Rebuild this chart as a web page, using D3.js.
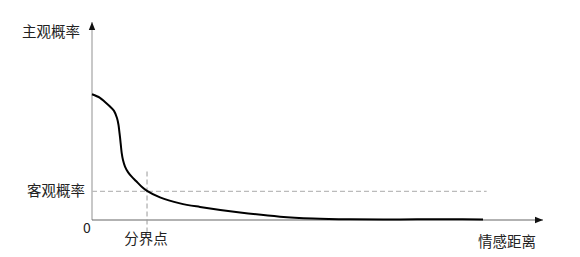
<!DOCTYPE html>
<html>
<head>
<meta charset="utf-8">
<script src="https://cdn.jsdelivr.net/npm/d3@7"></script>
<style>
body{margin:0;background:#fff;}
text{font-family:"Noto Sans CJK SC","Noto Sans",sans-serif;fill:#222;}
</style>
</head>
<body>
<script>
// 情感距离 vs 主观概率 曲线
var distX = [0, 1.77, 2.88, 3.99, 4.88, 5.54, 5.88, 6.05, 6.21, 6.39, 6.59, 6.87, 7.32, 7.98, 8.80, 9.76, 11.02, 12.20, 15.08, 19.51, 23.95, 32.82, 41.69, 49.00, 57.21, 68.29, 79.38, 86.70];
var probY = [0.635, 0.617, 0.596, 0.573, 0.551, 0.515, 0.480, 0.449, 0.419, 0.379, 0.338, 0.303, 0.270, 0.242, 0.219, 0.197, 0.168, 0.147, 0.114, 0.084, 0.066, 0.038, 0.017, 0.008, 0.004, 0.003, 0.004, 0.003];
var objProb = 0.145;      // 客观概率
var splitX = 12.2;        // 分界点
var axisLabels = { y: "主观概率", x: "情感距离", h: "客观概率", v: "分界点", o: "0" };

var W = 580, H = 257;
var svg = d3.select('body').append('svg').attr('width', W).attr('height', H);

var x = d3.scaleLinear().domain([0, 100]).range([92, 543]);
var y = d3.scaleLinear().domain([0, 1]).range([220, 22]);

var defs = svg.append('defs');
defs.append('marker').attr('id', 'arr').attr('viewBox', '0 0 10 10')
	.attr('refX', 10).attr('refY', 5).attr('markerWidth', 10).attr('markerHeight', 8)
	.attr('markerUnits', 'userSpaceOnUse').attr('orient', 'auto')
	.append('path').attr('d', 'M0,1L10,5L0,9Z').attr('fill', '#111');

// 坐标轴
svg.append('line').attr('x1', x(0)).attr('y1', y(0)).attr('x2', x(0)).attr('y2', y(1))
	.attr('stroke', '#c8c8c8').attr('stroke-width', 2).attr('marker-end', 'url(#arr)');
svg.append('line').attr('x1', x(0)).attr('y1', y(0)).attr('x2', x(100)).attr('y2', y(0))
	.attr('stroke', '#666').attr('stroke-width', 1.2).attr('marker-end', 'url(#arr)');

// 虚线
svg.append('line').attr('x1', x(0)).attr('y1', y(objProb)).attr('x2', x(87.5)).attr('y2', y(objProb))
	.attr('stroke', '#bbb').attr('stroke-width', 1.2).attr('stroke-dasharray', '5,3');
svg.append('line').attr('x1', x(splitX)).attr('y1', y(0.245)).attr('x2', x(splitX)).attr('y2', y(-0.06))
	.attr('stroke', '#999').attr('stroke-width', 1).attr('stroke-dasharray', '5,3');

var pts = distX.map(function(d, i){ return [d, probY[i]]; });
var line = d3.line().x(function(d){ return x(d[0]); }).y(function(d){ return y(d[1]); }).curve(d3.curveCatmullRom.alpha(0.5));
svg.append('path').datum(pts).attr('d', line).attr('fill', 'none').attr('stroke', '#000').attr('stroke-width', 2);

// 文字
svg.append('text').attr('x', 22).attr('y', 37).attr('font-size', 14.5).text(axisLabels.y);
svg.append('text').attr('x', 27).attr('y', y(objProb) + 5).attr('font-size', 14.5).text(axisLabels.h);
svg.append('text').attr('x', 87).attr('y', 233).attr('font-size', 14).attr('text-anchor', 'middle').attr('font-family', 'DejaVu Serif').text(axisLabels.o);
svg.append('text').attr('x', x(splitX) - 1).attr('y', 244).attr('font-size', 14.5).attr('text-anchor', 'middle').text(axisLabels.v);
svg.append('text').attr('x', 478).attr('y', 247).attr('font-size', 14.5).text(axisLabels.x);
</script>
</body>
</html>
